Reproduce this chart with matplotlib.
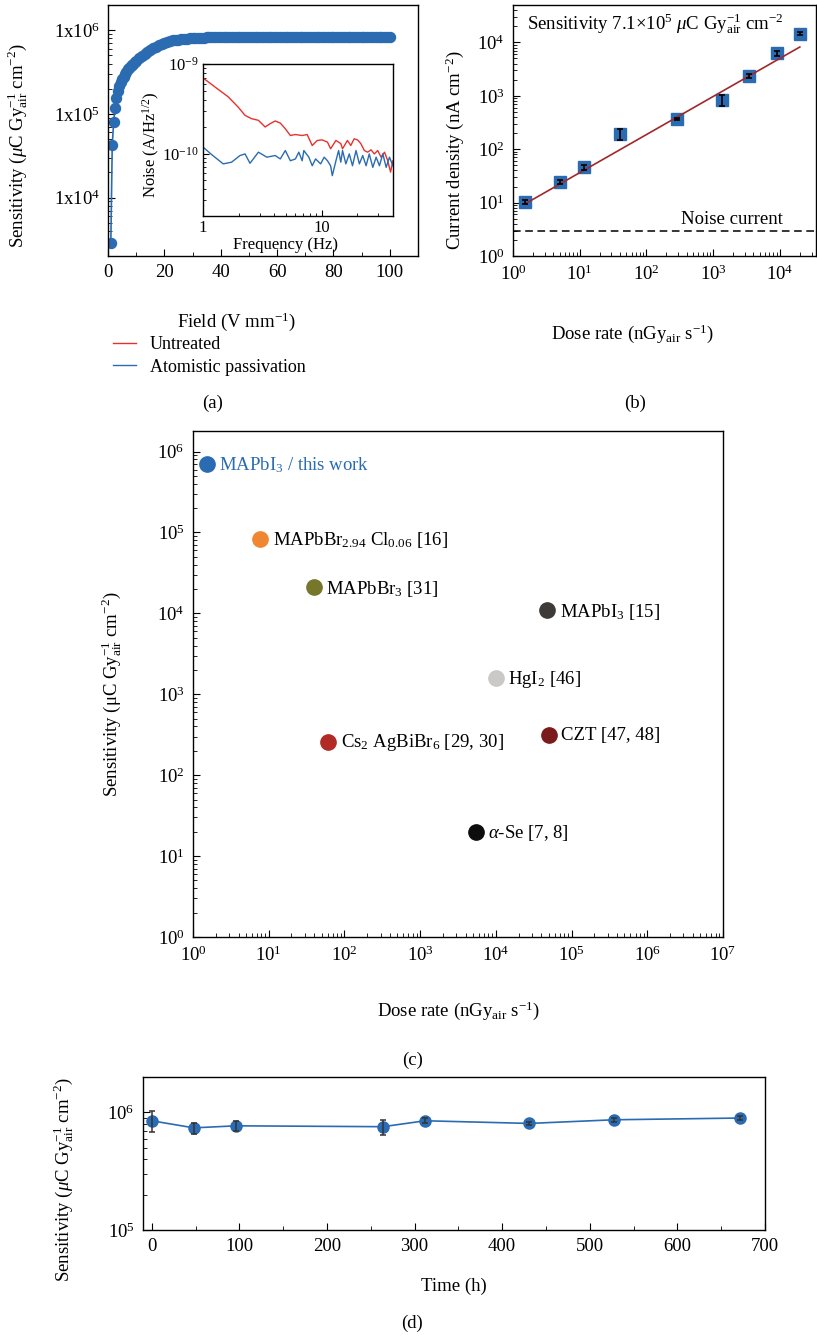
import numpy as np
import matplotlib
matplotlib.use('Agg')
import matplotlib.pyplot as plt
from matplotlib.ticker import FixedLocator, LogLocator, NullFormatter, MultipleLocator

plt.rcParams['font.family'] = ['Liberation Serif', 'DejaVu Serif']
plt.rcParams['mathtext.fontset'] = 'custom'
plt.rcParams['mathtext.rm'] = 'Liberation Serif'
plt.rcParams['mathtext.it'] = 'Liberation Serif:italic'
plt.rcParams['mathtext.bf'] = 'Liberation Serif:bold'
plt.rcParams['font.size'] = 13.5
plt.rcParams['axes.linewidth'] = 1.0
plt.rcParams['xtick.direction'] = 'in'
plt.rcParams['ytick.direction'] = 'in'

# ---- data ----
# (a) sensitivity vs field
field = [1, 1.5, 2, 2.5, 3, 3.5, 4, 4.5, 5, 5.5, 6, 6.5, 7, 7.5, 8, 8.5, 9, 9.5, 10,
         11, 12, 13, 14, 15, 16, 17, 18, 19, 20, 21, 22, 23, 24, 25, 26, 27, 28, 29, 30,
         31, 32, 33, 34, 35, 36, 37, 38, 39, 40,
         41, 42, 43, 44, 45, 46, 47, 48, 49, 50, 51, 52, 53, 54, 55, 56, 57, 58, 59, 60,
         61, 62, 63, 64, 65, 66, 67, 68, 69, 70, 71, 72, 73, 74, 75, 76, 77, 78, 79, 80,
         81, 82, 83, 84, 85, 86, 87, 88, 89, 90, 91, 92, 93, 94, 95, 96, 97, 98, 99, 100]
sens_field = [2.9e3, 4.2e4, 8.0e4, 1.18e5, 1.55e5, 1.9e5, 2.15e5, 2.4e5, 2.6e5, 2.8e5,
              3.0e5, 3.2e5, 3.4e5, 3.55e5, 3.7e5, 3.85e5, 4.0e5, 4.15e5, 4.3e5,
              4.6e5, 4.9e5, 5.2e5, 5.5e5, 5.8e5, 6.1e5, 6.35e5, 6.6e5, 6.85e5, 7.05e5,
              7.25e5, 7.4e5, 7.55e5, 7.65e5, 7.75e5, 7.85e5, 7.9e5, 7.95e5, 8.0e5, 8.05e5,
              8.1e5, 8.12e5, 8.15e5, 8.18e5, 8.2e5, 8.22e5, 8.24e5, 8.25e5, 8.26e5, 8.27e5,
              8.27e5, 8.28e5, 8.29e5, 8.3e5, 8.3e5, 8.3e5, 8.31e5, 8.31e5, 8.31e5, 8.31e5,
              8.32e5, 8.32e5, 8.32e5, 8.32e5, 8.32e5, 8.32e5, 8.33e5, 8.33e5, 8.33e5, 8.33e5,
              8.33e5, 8.33e5, 8.33e5, 8.33e5, 8.34e5, 8.34e5, 8.34e5, 8.34e5, 8.34e5, 8.33e5,
              8.33e5, 8.33e5, 8.33e5, 8.33e5, 8.33e5, 8.32e5, 8.32e5, 8.32e5, 8.32e5, 8.31e5,
              8.31e5, 8.31e5, 8.31e5, 8.3e5, 8.3e5, 8.3e5, 8.3e5, 8.29e5, 8.29e5, 8.28e5,
              8.28e5, 8.28e5, 8.27e5, 8.27e5, 8.26e5, 8.26e5, 8.25e5, 8.25e5, 8.25e5, 8.25e5]

# (a) inset noise spectra
freq_untr = [1.0, 1.26, 1.63, 1.98, 2.26, 2.57, 2.93, 3.34, 3.69, 4.06, 4.48, 4.94, 5.45,
             6.01, 6.85, 7.55, 8.33, 9.19, 10.1, 11.2, 11.9, 13.2, 14.5, 15.0, 16.5, 17.6,
             18.8, 20.1, 21.4, 22.9, 24.4, 26.1, 27.8, 29.7, 31.7, 33.9, 36.1, 38.1, 39.9]
noise_untr = [7.0e-10, 5.55e-10, 4.3e-10, 3.3e-10, 2.67e-10, 2.45e-10, 2.35e-10, 1.98e-10,
              2.16e-10, 2.31e-10, 2.19e-10, 1.89e-10, 1.59e-10, 1.63e-10, 1.59e-10, 1.63e-10,
              1.23e-10, 1.40e-10, 1.42e-10, 1.34e-10, 1.13e-10, 1.40e-10, 1.29e-10, 1.13e-10,
              1.40e-10, 1.23e-10, 1.46e-10, 1.42e-10, 1.29e-10, 1.08e-10, 1.035e-10, 1.10e-10,
              9.9e-11, 1.08e-10, 9.1e-11, 1.035e-10, 8.3e-11, 6.2e-11, 8.3e-11]
freq_pass = [1.0, 1.18, 1.48, 1.74, 2.05, 2.26, 2.49, 2.93, 3.45, 4.06, 4.48, 4.94, 5.45,
             6.01, 6.42, 6.85, 7.08, 7.80, 8.33, 8.89, 9.81, 10.5, 11.2, 11.9, 12.3, 13.2,
             13.9, 14.5, 15.0, 16.0, 17.1, 18.2, 19.5, 20.8, 22.2, 23.7, 25.2, 27.0, 28.8,
             30.7, 32.8, 35.0, 37.3, 39.9]
noise_pass = [1.18e-10, 9.75e-11, 7.66e-11, 8.0e-11, 9.5e-11, 9.9e-11, 7.78e-11, 1.035e-10,
              9.1e-11, 9.5e-11, 8.7e-11, 1.08e-10, 8.3e-11, 8.7e-11, 1.035e-10, 8.3e-11,
              1.08e-10, 9.1e-11, 7.3e-11, 8.7e-11, 7.66e-11, 9.1e-11, 8.3e-11, 7.3e-11,
              5.66e-11, 8.3e-11, 1.08e-10, 8.0e-11, 1.08e-10, 7.66e-11, 9.9e-11, 7.3e-11,
              1.08e-10, 7.66e-11, 9.5e-11, 7.3e-11, 9.9e-11, 7.0e-11, 9.1e-11, 7.3e-11,
              9.9e-11, 7.0e-11, 9.1e-11, 7.3e-11]

# (b) current density vs dose rate
dose_b = [1.5, 5.0, 11.6, 40.2, 286, 1374, 3500, 9220, 2.0e4]
curr_b = [10.3, 24.8, 46, 191, 370, 841, 2340, 6310, 14500]
curr_err = [0.8, 2.0, 4.5, 45, 15, 200, 200, 700, 900]
fit_dose = [1.5, 2.0e4]
fit_curr = [9.4, 8200]
noise_level = 3.0

# (c) comparison
mat_labels = ['MAPbI$_3$ / this work', 'MAPbBr$_{2.94}$ Cl$_{0.06}$ [16]', 'MAPbBr$_3$ [31]',
              'MAPbI$_3$ [15]', 'HgI$_2$ [46]', 'Cs$_2$ AgBiBr$_6$ [29, 30]', 'CZT [47, 48]',
              r'$\alpha$-Se [7, 8]']
mat_dose = [1.53, 7.7, 39.5, 4.8e4, 1.0e4, 61, 4.97e4, 5460]
mat_sens = [7.05e5, 8.4e4, 2.1e4, 1.09e4, 1.6e3, 260, 318, 20]
mat_colors = ['#2a6bb2', '#ef8631', '#76772a', '#3d3a37', '#cdc8c8', '#b12a26', '#7b1a1b', '#0d0d0d']

# (d) stability
time_h = [0, 48, 96, 264, 312, 431, 528, 672]
sens_t = [8.5e5, 7.4e5, 7.7e5, 7.57e5, 8.5e5, 8.07e5, 8.67e5, 8.97e5]
sens_t_err = [1.7e5, 8e4, 7e4, 1.1e5, 4e4, 3e4, 3e4, 3e4]

blue = '#2a6bb2'

fig = plt.figure(figsize=(8.17, 13.37), dpi=100)

# ---------- (a) ----------
axa = fig.add_axes([0.1322, 0.8085, 0.3794, 0.1877])
axa.semilogy(field, sens_field, '-o', color=blue, ms=7.2, lw=1.2)
axa.set_xlim(0, 110)
axa.set_ylim(2000, 2e6)
axa.xaxis.set_major_locator(FixedLocator([0, 20, 40, 60, 80, 100]))
axa.xaxis.set_minor_locator(MultipleLocator(10))
axa.yaxis.set_major_locator(FixedLocator([1e4, 1e5, 1e6]))
axa.set_yticklabels(['1x10$^4$', '1x10$^5$', '1x10$^6$'])
axa.yaxis.set_minor_locator(LogLocator(base=10, subs=np.arange(2, 10)))
axa.yaxis.set_minor_formatter(NullFormatter())
axa.tick_params(which='major', length=5, pad=6)
axa.tick_params(which='minor', length=3)
axa.set_xlabel('Field (V mm$^{-1}$)')
axa.xaxis.set_label_coords(0.413, -0.215)
axa.set_ylabel('Sensitivity ($\\mu$C Gy$_{\\mathrm{air}}^{-1}$ cm$^{-2}$)')
axa.yaxis.set_label_coords(-0.252, 0.44)

# inset
axi = fig.add_axes([0.2485, 0.8384, 0.2326, 0.1137])
l1, = axi.loglog(freq_untr, noise_untr, color='#e8312e', lw=1.0, label='Untreated')
l2, = axi.loglog(freq_pass, noise_pass, color='#2a6bb2', lw=1.0, label='Atomistic passivation')
axi.set_xlim(1, 40)
axi.set_ylim(2e-11, 1e-9)
axi.xaxis.set_major_locator(FixedLocator([1, 10]))
axi.set_xticklabels(['1', '10'])
axi.xaxis.set_minor_formatter(NullFormatter())
axi.yaxis.set_major_locator(FixedLocator([1e-10, 1e-9]))
axi.set_yticklabels(['10$^{-10}$', '10$^{-9}$'])
axi.yaxis.set_minor_formatter(NullFormatter())
axi.tick_params(labelsize=12, which='major', length=4, pad=3)
axi.tick_params(which='minor', length=2)
axi.set_xlabel('Frequency (Hz)', fontsize=12)
axi.xaxis.set_label_coords(0.434, -0.14)
axi.set_ylabel('Noise (A/Hz$^{1/2}$)', fontsize=12)
axi.yaxis.set_label_coords(-0.216, 0.47)

fig.legend(handles=[l1, l2], loc='upper left', bbox_to_anchor=(0.118, 1 - 320 / 1337),
           frameon=False, fontsize=13, handlelength=1.3, handletextpad=0.75, labelspacing=0.3)
fig.text(213 / 817, 1 - 403 / 1337, '(a)', ha='center', va='center', fontsize=13.5)

# ---------- (b) ----------
axb = fig.add_axes([0.6279, 0.8085, 0.3709, 0.1877])
axb.plot(fit_dose, fit_curr, color='#a1282a', lw=1.2, zorder=3)
axb.plot(dose_b, curr_b, 's', color=blue, ms=8, zorder=2)
axb.errorbar(dose_b, curr_b, yerr=curr_err, fmt='none', ecolor='black',
             elinewidth=1.2, capsize=2.5, capthick=1.2, zorder=4)
axb.axhline(noise_level, color='black', ls=(0, (5, 3)), lw=1.1)
axb.set_xscale('log')
axb.set_yscale('log')
axb.set_xlim(1, 3.5e4)
axb.set_ylim(1, 5e4)
axb.xaxis.set_major_locator(FixedLocator([1, 10, 100, 1e3, 1e4]))
axb.yaxis.set_major_locator(FixedLocator([1, 10, 100, 1e3, 1e4]))
for ax_ in (axb.xaxis, axb.yaxis):
    ax_.set_minor_locator(LogLocator(base=10, subs=np.arange(2, 10)))
    ax_.set_minor_formatter(NullFormatter())
axb.tick_params(which='major', length=5, pad=6)
axb.tick_params(which='minor', length=3)
axb.text(1.1e4, 4.9, 'Noise current', ha='right', va='center')
axb.text(0.046, 0.924, 'Sensitivity 7.1\u00d710$^5$ $\\mu$C Gy$_{\\mathrm{air}}^{-1}$ cm$^{-2}$',
         transform=axb.transAxes, ha='left', va='center')
axb.set_xlabel('Dose rate (nGy$_{\\mathrm{air}}$ s$^{-1}$)')
axb.xaxis.set_label_coords(0.393, -0.263)
axb.set_ylabel('Current density (nA cm$^{-2}$)')
axb.yaxis.set_label_coords(-0.155, 0.42)
fig.text(635 / 817, 1 - 403 / 1337, '(b)', ha='center', va='center', fontsize=13.5)

# ---------- (c) ----------
axc = fig.add_axes([0.2362, 0.2992, 0.6487, 0.3785])
for lab, xd, yd, c in zip(mat_labels, mat_dose, mat_sens, mat_colors):
    axc.plot(xd, yd, 'o', color=c, ms=11)
    axc.annotate(lab, (xd, yd), xytext=(9, -1), textcoords='offset points',
                 ha='left', va='center', fontsize=13.5,
                 color=blue if c == mat_colors[0] else 'black')
axc.set_xscale('log')
axc.set_yscale('log')
axc.set_xlim(1, 1e7)
axc.set_ylim(1, 1.8e6)
axc.xaxis.set_major_locator(FixedLocator([10.0 ** k for k in range(8)]))
axc.yaxis.set_major_locator(FixedLocator([10.0 ** k for k in range(7)]))
for ax_ in (axc.xaxis, axc.yaxis):
    ax_.set_minor_locator(LogLocator(base=10, subs=np.arange(2, 10)))
    ax_.set_minor_formatter(NullFormatter())
axc.tick_params(which='major', length=5, pad=6)
axc.tick_params(which='minor', length=3)
axc.set_xlabel('Dose rate (nGy$_{\\mathrm{air}}$ s$^{-1}$)')
axc.xaxis.set_label_coords(0.5, -0.1245)
axc.set_ylabel('Sensitivity (\u03bcC Gy$_{\\mathrm{air}}^{-1}$ cm$^{-2}$)')
axc.yaxis.set_label_coords(-0.130, 0.48)
fig.text(413 / 817, 1 - 1060 / 1337, '(c)', ha='center', va='center', fontsize=13.5)

# ---------- (d) ----------
axd = fig.add_axes([0.175, 0.0800, 0.7613, 0.1144])
axd.plot(time_h, sens_t, '-o', color=blue, ms=8, lw=1.2, zorder=2)
axd.errorbar(time_h, sens_t, yerr=sens_t_err, fmt='none', ecolor='#333333',
             elinewidth=1.1, capsize=2.5, capthick=1.1, zorder=3)
axd.set_yscale('log')
axd.set_xlim(-10, 700)
axd.set_ylim(1e5, 2e6)
axd.xaxis.set_major_locator(MultipleLocator(100))
axd.xaxis.set_minor_locator(MultipleLocator(50))
axd.yaxis.set_major_locator(FixedLocator([1e5, 1e6]))
axd.yaxis.set_minor_locator(LogLocator(base=10, subs=np.arange(2, 10)))
axd.yaxis.set_minor_formatter(NullFormatter())
axd.tick_params(which='major', length=5, pad=6)
axd.tick_params(which='minor', length=3)
axd.set_xlabel('Time (h)')
axd.xaxis.set_label_coords(0.5, -0.314)
axd.set_ylabel('Sensitivity ($\\mu$C Gy$_{\\mathrm{air}}^{-1}$ cm$^{-2}$)')
axd.yaxis.set_label_coords(-0.108, 0.33)
fig.text(412 / 817, 1 - 1323 / 1337, '(d)', ha='center', va='center', fontsize=13.5)

fig.savefig('out.png', dpi=100)
